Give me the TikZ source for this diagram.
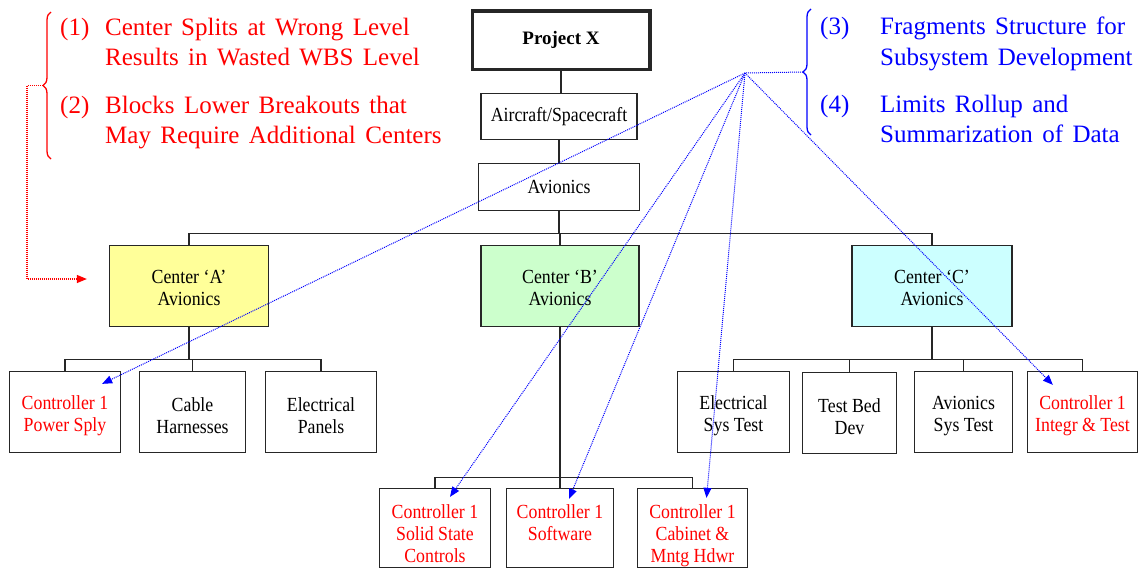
\documentclass[tikz,border=0pt]{standalone}
\usepackage{fontspec}
\setmainfont{Liberation Serif}
\newfontfamily\boxfont[FakeStretch=0.89]{Liberation Serif}
\newfontfamily\notefont[WordSpace=1.5]{Liberation Serif}
\usetikzlibrary{arrows.meta,decorations.pathreplacing,calc}
\definecolor{cyel}{HTML}{FFFF99}
\definecolor{cgrn}{HTML}{CCFFCC}
\definecolor{ccya}{HTML}{CCFFFF}
\definecolor{nred}{HTML}{FF0000}
\definecolor{nblu}{HTML}{0000FF}
\newcommand{\dpt}{\rule[-5pt]{0pt}{5pt}}
\begin{document}
\begin{tikzpicture}[x=1pt,y=-1pt,
 box/.style={draw=black!85,line width=1.3pt,rectangle,inner sep=0pt,align=center,
   font=\boxfont\fontsize{20}{22}\selectfont,text=black},
 ctl/.style={box,text=nred},
 link/.style={draw=black!85,line width=1.3pt},
 note/.style={anchor=base west,inner sep=0pt,font=\notefont\fontsize{25}{30}\selectfont},
 bdot/.style={draw=nblu,line width=1pt,dash pattern=on 1pt off 1pt},
 rdot/.style={draw=nred,line width=1.2pt,dash pattern=on 1pt off 1pt},
 btip/.style={-{Triangle[length=10pt,width=8pt]}},
]
\useasboundingbox (0,0) rectangle (1146,571);
\fill[white] (0,0) rectangle (1146,571);

% top chain
\node[box,line width=3.5pt,minimum width=177.5pt,minimum height=58.5pt,font=\fontsize{19}{22}\selectfont\bfseries] (px) at (561,40) {Project X};
\node[box,minimum width=156pt,minimum height=46pt] (ac) at (559,116.5) {Aircraft/Spacecraft};
\node[box,minimum width=161pt,minimum height=47pt] (av) at (559,187) {Avionics};

% centers
\node[box,fill=cyel,minimum width=159pt,minimum height=81pt] (ca) at (189,286) {\rule{0pt}{17pt}Center ‘A’\\Avionics};
\node[box,fill=cgrn,minimum width=158pt,minimum height=81pt] (cb) at (560,286) {\rule{0pt}{17pt}Center ‘B’\\Avionics};
\node[box,fill=ccya,minimum width=160pt,minimum height=81pt] (cc) at (932,286) {\rule{0pt}{17pt}Center ‘C’\\Avionics};

% row A
\node[ctl,minimum width=111pt,minimum height=81pt] (ps) at (65,412) {\rule{0pt}{22pt}Controller 1\\Power Sply};
\node[box,minimum width=106pt,minimum height=81pt] (ch) at (192.5,412) {\rule{0pt}{22pt}Cable\\Harnesses};
\node[box,minimum width=111pt,minimum height=81pt] (ep) at (321,412) {\rule{0pt}{22pt}Electrical\\Panels};

% row C
\node[box,minimum width=112pt,minimum height=81pt] (es) at (733.5,412) {\rule{0pt}{22pt}Electrical\\Sys Test};
\node[box,minimum width=94pt,minimum height=81pt] (tb) at (849.5,413) {\rule{0pt}{22pt}Test Bed\\Dev};
\node[box,minimum width=98pt,minimum height=81pt] (as) at (963.5,412) {\rule{0pt}{22pt}Avionics\\Sys Test};
\node[ctl,minimum width=110pt,minimum height=81pt] (it) at (1082.5,412) {\rule{0pt}{22pt}Controller 1\\Integr \& Test};

% row B
\node[ctl,minimum width=111pt,minimum height=79pt] (ss) at (435,528) {\rule{0pt}{30pt}Controller 1\\Solid State\\Controls\dpt};
\node[ctl,minimum width=107pt,minimum height=79pt] (sw) at (560,528) {\rule{0pt}{30pt}Controller 1\\Software\\\dpt};
\node[ctl,minimum width=110pt,minimum height=79pt] (cm) at (692.5,528) {\rule{0pt}{30pt}Controller 1\\Cabinet \&\\Mntg Hdwr\dpt};

% tree connectors
\draw[link] (px.south) -- (px.south |- ac.north);
\draw[link] (ac.south) -- (ac.south |- av.north);
\draw[link] (av.south) -- ++(0,22) coordinate (h1);
\draw[link] (ca.north) |- (h1) -| (cc.north);
\draw[link] (cb.north) -- (cb.north |- h1);

\draw[link] (ca.south) -- ++(0,32) coordinate (h2);
\draw[link] (ps.north) |- (h2) -| (ep.north);
\draw[link] (ch.north) -- (ch.north |- h2);

\draw[link] (cc.south) -- ++(0,32) coordinate (h3);
\draw[link] (es.north) |- (h3) -| (it.north);
\draw[link] (tb.north) -- (tb.north |- h3);
\draw[link] (as.north) -- (as.north |- h3);

\draw[link] (cb.south) -- ++(0,150) coordinate (h4);
\draw[link] (ss.north) |- (h4) -| (cm.north);
\draw[link] (sw.north) -- (sw.north |- h4);

% notes
\begin{scope}[text=nred]
\node[note] (n1) at (60,35) {(1)};
\node[note] (t1a) at (105,35) {Center Splits at Wrong Level};
\node[note] (t1b) at (105,65) {Results in Wasted WBS Level};
\node[note] (n2) at (60,113) {(2)};
\node[note] (t2a) at (105,113) {Blocks Lower Breakouts that};
\node[note] (t2b) at (105,143) {May Require Additional Centers};
\end{scope}
\begin{scope}[text=nblu]
\node[note] (n3) at (820,34) {(3)};
\node[note] (t3a) at (880,34) {Fragments Structure for};
\node[note] (t3b) at (880,65) {Subsystem Development};
\node[note] (n4) at (820,112) {(4)};
\node[note] (t4a) at (880,112) {Limits Rollup and};
\node[note] (t4b) at (880,142) {Summarization of Data};
\end{scope}

% braces
\draw[nred,line width=1.3pt,decorate,decoration={brace,amplitude=8pt,aspect=0.5}] (51,159) -- (51,12);
\coordinate (rtip) at (43,85.5);
\draw[nblu,line width=1.3pt,decorate,decoration={brace,amplitude=8pt,aspect=0.5}] (811,135) -- (811,9);
\coordinate (btp) at (803,72);

% red pointer
\coordinate (rend) at ($(ca.west)+(-22,-7)$);
\draw[rdot,-{Triangle[length=10pt,width=8pt]}] (rtip) -- (27,85.5) |- (rend);

% blue pointers
\coordinate (hub) at (745,73);
\coordinate (tps) at ($(ps.north east)+(-19,13)$);
\coordinate (tss) at ($(ss.north)+(15,9)$);
\coordinate (tsw) at ($(sw.north)+(9,11)$);
\coordinate (tcm) at ($(cm.north)+(14,10)$);
\coordinate (tit) at ($(it.north west)+(26,14)$);
\draw[bdot] (btp) -- (hub);
\draw[bdot,btip] (hub) -- (tps);
\draw[bdot,btip] (hub) -- (tss);
\draw[bdot,btip] (hub) -- (tsw);
\draw[bdot,btip] (hub) -- (tcm);
\draw[bdot,btip] (hub) -- (tit);
\end{tikzpicture}
\end{document}
